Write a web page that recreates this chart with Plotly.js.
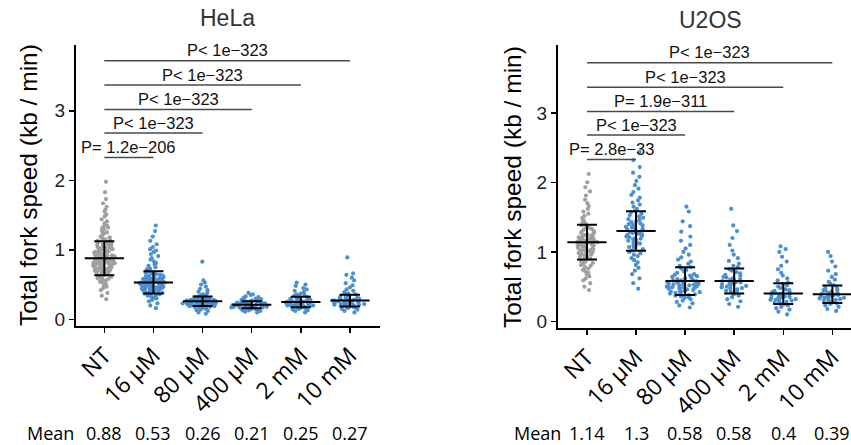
<!DOCTYPE html>
<html>
<head>
<meta charset="utf-8">
<script src="https://cdn.plot.ly/plotly-3.0.1.min.js"></script>
<style>html,body{margin:0;padding:0;background:#fff;}#chart{width:851px;height:445px;}</style>
</head>
<body>
<div id="chart"></div>
<script>
// ---------- data ----------
var categories = ['NT', '16 μM', '80 μM', '400 μM', '2 mM', '10 mM'];
var panelTitles = ['HeLa', 'U2OS'];

var helaNT = [0.29,0.34,0.38,0.42,0.45,0.47,0.49,0.51,0.53,0.54,0.56,0.57,0.58,0.59,0.60,0.61,0.62,0.63,0.64,0.64,0.65,0.66,0.66,0.67,0.68,0.68,0.69,0.69,0.70,0.70,0.71,0.71,0.72,0.72,0.73,0.73,0.74,0.74,0.75,0.75,0.76,0.76,0.77,0.77,0.77,0.78,0.78,0.79,0.79,0.80,0.80,0.81,0.81,0.81,0.82,0.82,0.83,0.83,0.83,0.84,0.84,0.85,0.85,0.86,0.86,0.87,0.87,0.87,0.88,0.88,0.89,0.89,0.90,0.90,0.91,0.91,0.92,0.92,0.93,0.93,0.94,0.94,0.95,0.95,0.96,0.96,0.97,0.97,0.98,0.98,0.99,1.00,1.00,1.01,1.02,1.03,1.03,1.04,1.05,1.06,1.07,1.08,1.08,1.09,1.10,1.11,1.12,1.13,1.14,1.15,1.16,1.18,1.19,1.21,1.23,1.25,1.27,1.29,1.31,1.32,1.33,1.35,1.38,1.41,1.44,1.48,1.51,1.55,1.58,1.62,1.67,1.73,1.83,1.98];
var hela16uM = [0.16,0.20,0.23,0.26,0.28,0.30,0.31,0.32,0.33,0.34,0.35,0.36,0.36,0.37,0.38,0.38,0.39,0.39,0.40,0.40,0.41,0.41,0.42,0.42,0.42,0.43,0.43,0.44,0.44,0.44,0.45,0.45,0.45,0.46,0.46,0.46,0.47,0.47,0.47,0.48,0.48,0.48,0.49,0.49,0.50,0.50,0.50,0.51,0.51,0.51,0.52,0.52,0.52,0.53,0.53,0.53,0.54,0.54,0.55,0.55,0.55,0.56,0.56,0.57,0.57,0.58,0.58,0.59,0.59,0.60,0.60,0.61,0.61,0.62,0.63,0.63,0.64,0.65,0.66,0.67,0.68,0.69,0.69,0.70,0.72,0.73,0.75,0.77,0.79,0.81,0.83,0.86,0.88,0.91,0.94,0.97,0.99,1.01,1.04,1.08,1.13,1.19,1.27,1.35];
var hela80uM = [0.08,0.10,0.12,0.13,0.14,0.15,0.16,0.16,0.17,0.17,0.18,0.18,0.18,0.19,0.19,0.19,0.20,0.20,0.20,0.20,0.21,0.21,0.21,0.21,0.21,0.22,0.22,0.22,0.22,0.22,0.23,0.23,0.23,0.23,0.23,0.23,0.23,0.24,0.24,0.24,0.24,0.24,0.25,0.25,0.25,0.25,0.25,0.26,0.26,0.26,0.26,0.27,0.27,0.27,0.27,0.28,0.28,0.28,0.29,0.29,0.29,0.30,0.30,0.31,0.31,0.32,0.33,0.34,0.35,0.36,0.38,0.40,0.42,0.44,0.47,0.50,0.53,0.56,0.83];
var hela400uM = [0.10,0.11,0.12,0.13,0.13,0.14,0.15,0.15,0.16,0.16,0.16,0.17,0.17,0.17,0.17,0.18,0.18,0.18,0.18,0.18,0.19,0.19,0.19,0.19,0.19,0.20,0.20,0.20,0.20,0.20,0.21,0.21,0.21,0.21,0.21,0.22,0.22,0.22,0.22,0.23,0.23,0.23,0.23,0.24,0.24,0.24,0.25,0.25,0.26,0.26,0.27,0.27,0.28,0.29,0.30,0.31,0.32,0.33,0.35,0.36,0.38];
var hela2mM = [0.10,0.12,0.13,0.14,0.15,0.16,0.16,0.17,0.17,0.18,0.18,0.19,0.19,0.20,0.20,0.20,0.21,0.21,0.21,0.22,0.22,0.22,0.23,0.23,0.23,0.23,0.24,0.24,0.24,0.24,0.25,0.25,0.25,0.26,0.26,0.26,0.27,0.27,0.28,0.28,0.29,0.29,0.30,0.30,0.31,0.32,0.33,0.34,0.35,0.36,0.37,0.39,0.41,0.43,0.45,0.48,0.50,0.53];
var hela10mM = [0.10,0.12,0.14,0.15,0.16,0.17,0.18,0.18,0.19,0.19,0.20,0.20,0.21,0.21,0.22,0.22,0.22,0.23,0.23,0.23,0.24,0.24,0.24,0.25,0.25,0.25,0.26,0.26,0.26,0.27,0.27,0.27,0.28,0.28,0.28,0.29,0.29,0.30,0.30,0.31,0.31,0.32,0.33,0.34,0.35,0.36,0.37,0.39,0.41,0.43,0.46,0.49,0.52,0.56,0.60,0.64,0.66,0.89];

var u2osNT = [0.45,0.50,0.55,0.59,0.62,0.65,0.68,0.70,0.72,0.74,0.76,0.78,0.80,0.81,0.83,0.84,0.86,0.87,0.88,0.89,0.90,0.91,0.92,0.93,0.94,0.95,0.96,0.97,0.97,0.98,0.99,0.99,1.00,1.01,1.02,1.02,1.03,1.04,1.04,1.05,1.06,1.06,1.07,1.08,1.08,1.09,1.10,1.10,1.11,1.11,1.12,1.12,1.13,1.14,1.14,1.15,1.15,1.16,1.16,1.17,1.18,1.18,1.19,1.20,1.20,1.21,1.22,1.23,1.24,1.25,1.26,1.27,1.28,1.29,1.30,1.32,1.33,1.35,1.36,1.38,1.40,1.42,1.44,1.46,1.49,1.52,1.55,1.58,1.62,1.66,1.70,1.75,1.81,1.87,1.93,2.00,2.12];
var u2os16uM = [0.47,0.55,0.62,0.68,0.73,0.77,0.81,0.85,0.88,0.91,0.94,0.96,0.98,1.00,1.02,1.04,1.06,1.07,1.09,1.10,1.12,1.13,1.14,1.16,1.17,1.18,1.19,1.20,1.21,1.22,1.23,1.24,1.25,1.26,1.27,1.28,1.29,1.30,1.31,1.32,1.33,1.34,1.35,1.36,1.37,1.38,1.39,1.40,1.41,1.43,1.44,1.46,1.47,1.49,1.51,1.53,1.55,1.57,1.59,1.62,1.65,1.68,1.71,1.74,1.78,1.82,1.86,1.91,1.96,2.02,2.08,2.14,2.22,2.32,2.44];
var u2os80uM = [0.20,0.23,0.26,0.28,0.30,0.32,0.34,0.35,0.36,0.37,0.38,0.39,0.39,0.40,0.41,0.42,0.42,0.43,0.44,0.44,0.45,0.46,0.46,0.47,0.47,0.48,0.48,0.49,0.49,0.50,0.50,0.51,0.51,0.52,0.52,0.53,0.53,0.54,0.54,0.55,0.55,0.56,0.56,0.57,0.57,0.58,0.59,0.59,0.60,0.61,0.62,0.63,0.64,0.65,0.66,0.67,0.68,0.70,0.72,0.74,0.76,0.78,0.80,0.83,0.86,0.89,0.92,0.96,1.00,1.05,1.10,1.16,1.22,1.29,1.37,1.44,1.58,1.65];
var u2os400uM = [0.21,0.25,0.29,0.32,0.35,0.37,0.39,0.41,0.43,0.44,0.46,0.47,0.48,0.49,0.50,0.51,0.52,0.53,0.54,0.55,0.56,0.56,0.57,0.58,0.59,0.60,0.61,0.62,0.63,0.64,0.66,0.67,0.69,0.71,0.73,0.75,0.78,0.80,0.83,0.87,0.91,0.96,1.02,1.10,1.20,1.30,1.38,1.62];
var u2os2mM = [0.10,0.14,0.17,0.19,0.21,0.23,0.24,0.25,0.26,0.27,0.28,0.29,0.30,0.31,0.31,0.32,0.33,0.33,0.34,0.35,0.35,0.36,0.37,0.37,0.38,0.39,0.39,0.40,0.41,0.42,0.43,0.44,0.45,0.46,0.48,0.50,0.52,0.54,0.56,0.59,0.62,0.66,0.70,0.75,0.80,0.86,0.93,1.00,1.04,1.08];
var u2os10mM = [0.15,0.18,0.21,0.23,0.25,0.26,0.27,0.28,0.29,0.30,0.31,0.32,0.32,0.33,0.34,0.34,0.35,0.36,0.36,0.37,0.38,0.38,0.39,0.40,0.40,0.41,0.42,0.43,0.44,0.45,0.46,0.48,0.50,0.52,0.54,0.57,0.60,0.64,0.68,0.73,0.79,0.86,0.94,1.00];

var helaMean = [0.88, 0.53, 0.26, 0.21, 0.25, 0.27];
var helaSD   = [0.245, 0.16, 0.07, 0.05, 0.075, 0.085];
var u2osMean = [1.14, 1.3, 0.58, 0.58, 0.4, 0.39];
var u2osSD   = [0.25, 0.285, 0.2, 0.18, 0.15, 0.125];

var helaP = ['P= 1.2e\u2212206', 'P< 1e\u2212323', 'P< 1e\u2212323', 'P< 1e\u2212323', 'P< 1e\u2212323'];
var u2osP = ['P= 2.8e\u221233', 'P< 1e\u2212323', 'P= 1.9e\u2212311', 'P< 1e\u2212323', 'P< 1e\u2212323'];
var bracketY = [2.33, 2.68, 3.02, 3.37, 3.72];

// ---------- styling ----------
var grey = '#a0a0a0', blue = '#4a90d2';
var helaWidths = [0.46, 0.58, 0.95, 0.85, 0.8, 0.75];
var u2osWidths = [0.45, 0.42, 0.8, 0.58, 0.62, 0.58];
var sansA = 'Liberation Sans, Arial, sans-serif';
var sansM = 'Open Sans, sans-serif';

var panels = [
  {groups: [helaNT, hela16uM, hela80uM, hela400uM, hela2mM, hela10mM], mean: helaMean, sd: helaSD, p: helaP, widths: helaWidths, xa: 'x', ya: 'y', meanLabelX: 50 / 851},
  {groups: [u2osNT, u2os16uM, u2os80uM, u2os400uM, u2os2mM, u2os10mM], mean: u2osMean, sd: u2osSD, p: u2osP, widths: u2osWidths, xa: 'x2', ya: 'y2', meanLabelX: 537 / 851}
];

var traces = [], shapes = [], annotations = [];
var idx = [0, 1, 2, 3, 4, 5];
var meanRowY = 1 - 433 / 445;

panels.forEach(function (pn) {
  pn.groups.forEach(function (vals, i) {
    traces.push({
      type: 'box', y: vals, x0: i, width: pn.widths[i],
      xaxis: pn.xa, yaxis: pn.ya,
      boxpoints: 'all', jitter: 1, pointpos: 0,
      fillcolor: 'rgba(0,0,0,0)', line: {width: 0, color: 'rgba(0,0,0,0)'},
      marker: {color: i === 0 ? grey : blue, size: 4.2, opacity: 1},
      hoverinfo: 'y', showlegend: false
    });
  });
  traces.push({
    type: 'scatter', mode: 'markers', x: idx, y: pn.mean,
    xaxis: pn.xa, yaxis: pn.ya, cliponaxis: false,
    marker: {symbol: 'line-ew', size: 28, color: '#000', line: {width: 2, color: '#000'}},
    error_y: {type: 'data', array: pn.sd, visible: true, color: '#000', thickness: 2, width: 10},
    showlegend: false, hoverinfo: 'y'
  });
  pn.p.forEach(function (txt, k) {
    shapes.push({type: 'line', xref: pn.xa, yref: pn.ya, x0: 0, x1: k + 1, y0: bracketY[k], y1: bracketY[k],
      line: {color: '#4a4a4a', width: 1.5}});
    annotations.push({xref: pn.xa, yref: pn.ya, x: (k + 1) / 2, y: bracketY[k] + 0.15, text: txt,
      xanchor: 'center', yanchor: 'middle',
      showarrow: false, font: {family: sansA, size: 16.5, color: '#111'}});
  });
  annotations.push({xref: 'paper', yref: 'paper', x: pn.meanLabelX, y: meanRowY, text: 'Mean',
    xanchor: 'center', yanchor: 'middle',
    showarrow: false, font: {family: sansM, size: 18, color: '#000'}});
  pn.mean.forEach(function (m, i) {
    annotations.push({xref: pn.xa, yref: 'paper', x: i, y: meanRowY, text: String(m),
      xanchor: 'center', yanchor: 'middle',
      showarrow: false, font: {family: sansM, size: 18, color: '#000'}});
  });
});

// titles
function paperText(x, y, txt, size, color, angle) {
  return {xref: 'paper', yref: 'paper', x: x / 851, y: 1 - y / 445, text: txt, showarrow: false,
    xanchor: 'center', yanchor: 'middle', textangle: angle || 0,
    font: {family: sansA, size: size, color: color}};
}
annotations.push(paperText(227, 18, panelTitles[0], 23, '#333'));
annotations.push(paperText(710, 20, panelTitles[1], 23, '#333'));
annotations.push(paperText(28, 185, 'Total fork speed (kb / min)', 24.5, '#000', -90));
annotations.push(paperText(512, 187, 'Total fork speed (kb / min)', 24.5, '#000', -90));

function xAxis(domain, range, anchor) {
  return {domain: domain, range: range, anchor: anchor, tickmode: 'array', tickvals: idx, ticktext: categories,
    tickangle: -45, showline: true, linewidth: 2, linecolor: '#000', ticks: 'outside', ticklen: 5, tickwidth: 1.5,
    tickcolor: '#000', showgrid: false, zeroline: false, fixedrange: true,
    tickfont: {family: sansM, size: 23, color: '#000'}};
}
function yAxis(domain, range, anchor) {
  return {domain: domain, range: range, anchor: anchor, tickmode: 'array', tickvals: [0, 1, 2, 3],
    showline: true, linewidth: 2, linecolor: '#000', ticks: 'outside', ticklen: 5, tickwidth: 1.5, tickcolor: '#000',
    showgrid: false, zeroline: false, fixedrange: true,
    tickfont: {family: sansA, size: 19, color: '#222'}};
}

var layout = {
  width: 851, height: 445, autosize: false,
  margin: {l: 0, r: 0, t: 0, b: 0},
  paper_bgcolor: '#fff', plot_bgcolor: '#fff',
  showlegend: false, boxmode: 'overlay',
  xaxis: xAxis([76 / 851, 380 / 851], [-0.576, 5.61], 'y'),
  yaxis: yAxis([(445 - 326) / 445, 1 - 45 / 445], [-0.096, 3.947], 'x'),
  xaxis2: xAxis([558 / 851, 1], [-0.59, 5.38], 'y2'),
  yaxis2: yAxis([(445 - 328) / 445, 1 - 45 / 445], [-0.095, 3.976], 'x2'),
  shapes: shapes, annotations: annotations
};

Plotly.newPlot('chart', traces, layout, {displayModeBar: false, staticPlot: true});
</script>
</body>
</html>
